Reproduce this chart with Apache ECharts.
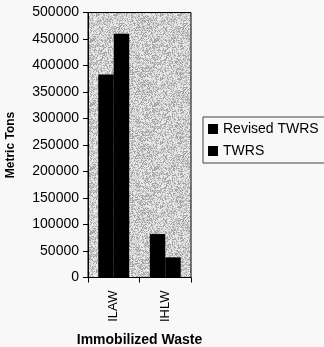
<!DOCTYPE html>
<html>
<head>
<meta charset="utf-8">
<script src="https://cdn.jsdelivr.net/npm/echarts@6/dist/echarts.min.js"></script>
<style>
  html, body { margin: 0; padding: 0; background: #f8f8f8; }
  #chart { width: 324px; height: 347px; }
</style>
</head>
<body>
<div id="chart"></div>
<script>
// Immobilized waste volumes, metric tons
const categories = ['ILAW', 'IHLW'];
const revisedTWRS = [383000, 82000];
const twrs = [460000, 38000];
const seriesNames = ['Revised TWRS', 'TWRS'];

// Stippled grey fill for the plot area (deterministic hash, not data)
function stipple() {
  const c = document.createElement('canvas');
  c.width = 64; c.height = 64;
  const ctx = c.getContext('2d');
  const img = ctx.createImageData(64, 64);
  let s = 12345;
  for (let i = 0; i < 64 * 64; i++) {
    s = (s * 1103515245 + 12345) & 0x7fffffff;
    const r = (s >> 8) % 100;
    const g = r < 30 ? 165 : (r < 60 ? 205 : 232);
    img.data[i * 4] = g; img.data[i * 4 + 1] = g; img.data[i * 4 + 2] = g; img.data[i * 4 + 3] = 255;
  }
  ctx.putImageData(img, 0, 0);
  return c;
}

const font = 'Liberation Sans, Arial, sans-serif';
const chart = echarts.init(document.getElementById('chart'), null, { renderer: 'canvas' });
chart.setOption({
  backgroundColor: '#f8f8f8',
  animation: false,
  grid: {
    left: 88, top: 12.5, width: 103, height: 265,
    show: true,
    backgroundColor: { image: stipple(), repeat: 'repeat' },
    borderColor: '#000', borderWidth: 1,
    outerBoundsMode: 'none'
  },
  legend: {
    orient: 'vertical',
    left: 203, top: 117,
    padding: [5, 40, 5, 5],
    itemWidth: 10, itemHeight: 10, itemGap: 8,
    icon: 'rect',
    borderColor: '#444', borderWidth: 1,
    backgroundColor: '#f8f8f8',
    textStyle: { fontFamily: font, fontSize: 14, color: '#000' },
    data: seriesNames
  },
  xAxis: {
    type: 'category',
    data: categories,
    name: 'Immobilized Waste',
    nameLocation: 'middle',
    nameGap: 56,
    nameTextStyle: { fontFamily: font, fontSize: 14, fontWeight: 'bold', color: '#000' },
    axisLine: { lineStyle: { color: '#000', width: 1 } },
    axisTick: { show: true, length: 5, lineStyle: { color: '#000' } },
    axisLabel: { rotate: 90, margin: 13, fontFamily: font, fontSize: 13, color: '#000' },
    splitLine: { show: false }
  },
  yAxis: {
    type: 'value',
    min: 0, max: 500000, interval: 50000,
    name: 'Metric Tons',
    nameLocation: 'middle',
    nameGap: 71,
    nameTextStyle: { fontFamily: font, fontSize: 12, fontWeight: 'bold', color: '#000' },
    axisLine: { show: true, lineStyle: { color: '#000', width: 1 } },
    axisTick: { show: true, length: 5, lineStyle: { color: '#000' } },
    axisLabel: { margin: 9, fontFamily: font, fontSize: 14, color: '#000', formatter: v => String(v) },
    splitLine: { show: false }
  },
  series: [
    {
      name: seriesNames[0], type: 'bar', data: revisedTWRS,
      barGap: '0%', barCategoryGap: '40%',
      itemStyle: { color: '#000' }
    },
    {
      name: seriesNames[1], type: 'bar', data: twrs,
      itemStyle: { color: '#000' }
    }
  ]
});
</script>
</body>
</html>
